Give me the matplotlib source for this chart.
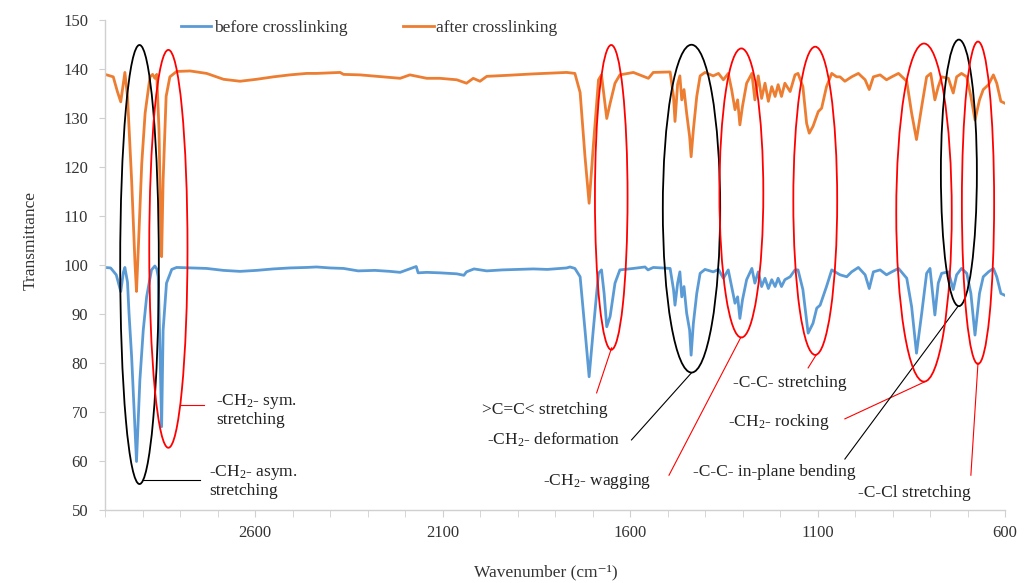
import matplotlib
matplotlib.use("Agg")
import matplotlib.pyplot as plt
from matplotlib.patches import Ellipse
import numpy as np

plt.rcParams['font.family'] = ['Liberation Serif', 'DejaVu Serif']
plt.rcParams['mathtext.fontset'] = 'custom'
plt.rcParams['mathtext.rm'] = 'Liberation Serif'
plt.rcParams['mathtext.it'] = 'Liberation Serif:italic'

# spectra (wavenumber [cm-1], transmittance)
wn_before = [3000, 2985, 2970, 2958, 2951, 2947, 2940, 2936, 2929, 2922, 2916, 2907, 2898, 2889, 2876, 2867, 2862, 2858,
			2853, 2849, 2845, 2836, 2822, 2809, 2773, 2729, 2684, 2640, 2596, 2551, 2507, 2462, 2436, 2400, 2364, 2325,
			2280, 2240, 2213, 2170, 2165, 2142, 2107, 2062, 2043, 2036, 2016, 1982, 1940, 1900, 1858, 1820, 1769, 1760,
			1747, 1733, 1720, 1709, 1698, 1684, 1676, 1669, 1662, 1653, 1640, 1627, 1591, 1560, 1552, 1538, 1493, 1484,
			1480, 1473, 1467, 1462, 1456, 1449, 1441, 1437, 1431, 1422, 1413, 1400, 1378, 1364, 1351, 1338, 1329, 1320,
			1313, 1307, 1300, 1289, 1275, 1267, 1258, 1249, 1240, 1231, 1222, 1213, 1205, 1196, 1187, 1173, 1160, 1152,
			1139, 1125, 1112, 1102, 1093, 1076, 1062, 1040, 1022, 1009, 991, 973, 962, 951, 933, 916, 902, 884, 862, 849,
			836, 822, 809, 800, 787, 778, 769, 751, 738, 729, 716, 702, 691, 680, 668, 658, 644, 631, 622, 611, 600]
t_before = [99.5, 99.4, 98.0, 94.6, 98.5, 99.5, 96.5, 90.2, 81.3, 69.7, 59.9, 76.5, 86.7, 93.5, 99.0, 99.8, 99.2, 97.6,
			81.3, 67.0, 86.7, 96.3, 99.1, 99.5, 99.4, 99.3, 98.9, 98.7, 98.9, 99.2, 99.4, 99.5, 99.6, 99.4, 99.3, 98.8,
			98.9, 98.7, 98.5, 99.7, 98.4, 98.5, 98.4, 98.2, 97.9, 98.6, 99.2, 98.8, 99.0, 99.1, 99.2, 99.1, 99.4, 99.6,
			99.3, 97.6, 86.7, 77.2, 86.7, 98.3, 99.0, 94.2, 87.4, 89.5, 96.3, 99.0, 99.3, 99.6, 99.0, 99.5, 99.3, 95.0,
			91.8, 96.3, 98.6, 93.5, 95.6, 90.2, 86.7, 81.6, 88.1, 94.2, 98.3, 99.1, 98.6, 99.1, 97.3, 99.0, 95.6, 92.2,
			93.5, 89.1, 92.9, 97.0, 99.3, 96.3, 98.6, 95.6, 97.3, 95.2, 97.0, 95.6, 97.3, 95.6, 97.0, 97.6, 99.0, 99.0,
			95.0, 86.1, 88.1, 91.2, 91.8, 95.6, 99.0, 98.0, 97.6, 98.6, 99.5, 98.0, 95.2, 98.6, 99.0, 98.0, 98.6, 99.3, 97.3, 91.5,
			82.0, 90.2, 98.3, 99.3, 89.8, 96.3, 98.3, 98.6, 95.0, 98.0, 99.3, 98.3, 94.2, 85.7, 94.2, 97.6, 98.6, 99.3, 97.6, 94.2, 93.8]

wn_after = [3000, 2978, 2967, 2958, 2951, 2947, 2940, 2929, 2920, 2916, 2911, 2902, 2893, 2880, 2873, 2867, 2862, 2856,
			2852, 2849, 2845, 2837, 2827, 2809, 2773, 2729, 2684, 2640, 2596, 2551, 2507, 2462, 2436, 2373, 2364, 2320,
			2258, 2213, 2187, 2142, 2107, 2062, 2036, 2018, 2000, 1982, 1929, 1858, 1769, 1747, 1733, 1720, 1709, 1698,
			1684, 1676, 1669, 1662, 1653, 1640, 1627, 1591, 1551, 1538, 1493, 1484, 1480, 1473, 1467, 1462, 1456, 1449,
			1441, 1437, 1431, 1422, 1413, 1400, 1378, 1364, 1351, 1338, 1329, 1320, 1313, 1307, 1300, 1289, 1275, 1267,
			1258, 1249, 1240, 1231, 1222, 1213, 1205, 1196, 1187, 1173, 1160, 1152, 1139, 1129, 1122, 1112, 1098, 1089,
			1076, 1062, 1049, 1040, 1027, 1009, 991, 973, 962, 951, 933, 916, 902, 884, 862, 849, 836, 822, 809, 798, 787,
			778, 769, 751, 738, 729, 716, 702, 691, 680, 668, 658, 644, 631, 622, 611, 600]
t_after = [138.9, 138.4, 135.4, 133.3, 137.1, 139.3, 134.4, 117.3, 100.3, 94.6, 103.7, 120.7, 131.0, 138.4, 138.9, 138.1,
			138.9, 127.6, 110.5, 101.7, 117.3, 134.4, 138.4, 139.5, 139.6, 139.1, 137.9, 137.5, 137.9, 138.4, 138.8, 139.1,
			139.1, 139.3, 138.9, 138.8, 138.4, 138.1, 138.8, 138.1, 138.1, 137.8, 137.1, 138.1, 137.5, 138.5, 138.7, 139.0,
			139.3, 139.1, 135.2, 122.1, 112.6, 124.1, 137.8, 138.8, 134.4, 129.9, 133.0, 137.1, 138.8, 139.3, 138.1, 139.3,
			139.4, 134.4, 129.3, 136.9, 138.6, 133.7, 135.8, 131.0, 126.2, 122.1, 127.6, 134.4, 138.6, 139.3, 138.6, 139.1,
			137.8, 139.1, 135.8, 131.7, 133.7, 128.6, 132.4, 137.1, 139.1, 133.7, 138.6, 134.0, 137.1, 133.4, 136.4, 134.4,
			136.8, 134.4, 137.1, 135.4, 138.8, 139.1, 136.4, 128.9, 126.9, 128.3, 131.3, 132.0, 136.4, 139.1, 138.4, 138.4,
			137.5, 138.4, 139.1, 137.8, 135.8, 138.4, 138.8, 137.8, 138.4, 139.1, 137.5, 131.0, 125.6, 132.4, 138.4, 139.1,
			133.7, 136.4, 138.4, 138.1, 135.1, 138.4, 139.1, 138.4, 134.4, 129.6, 133.7, 135.8, 136.8, 138.8, 137.1, 133.4, 133.0]

# marked bands: centre wn, centre T, width, height, colour
ell_wn = [2908, 2831, 1650, 1436, 1303, 1106, 816, 723, 672]
ell_t = [100.1, 103.3, 113.8, 111.5, 114.7, 113.1, 110.7, 118.8, 112.7]
ell_w = [103, 102, 87, 153, 117, 117, 148, 96, 86]
ell_h = [89.6, 81.2, 62.2, 66.9, 59.0, 62.9, 69.0, 54.4, 65.8]
ell_col = ["black", "red", "red", "black", "red", "red", "red", "black", "red"]

# labels with leader lines (line start -> line end, text anchor)
lab_txt = ["-CH$_2$- sym.\nstretching", "-CH$_2$- asym.\nstretching", ">C=C< stretching", "-CH$_2$- deformation",
			"-CH$_2$- wagging", "-C-C- stretching", "-CH$_2$- rocking", "-C-C- in-plane bending", "-C-Cl stretching"]
lab_wn = [2704, 2723, 1995, 1981, 1832, 1326, 1339, 1433, 992]
lab_t = [70.4, 55.9, 70.4, 64.3, 55.8, 75.9, 68.0, 57.8, 53.5]
line_wn0 = [2800, 2899, 1649, 1436, 1304, 1104, 813, 725, 672]
line_t0 = [71.4, 56.1, 83.1, 78.0, 85.3, 81.6, 76.2, 91.6, 80.0]
line_wn1 = [2736, 2747, 1689, 1596, 1496, 1125, 1027, 1027, 691]
line_t1 = [71.4, 56.1, 73.9, 64.3, 57.1, 79.0, 68.6, 60.4, 57.1]
line_col = ["red", "black", "red", "black", "red", "red", "red", "black", "red"]

fig = plt.figure(figsize=(10.25, 5.83), dpi=100)
ax = fig.add_axes([105/1025, 73/583, 900/1025, 490/583])

ax.plot(wn_before, t_before, color="#5B9BD5", lw=2.0, label="before crosslinking")
ax.plot(wn_after, t_after, color="#ED7D31", lw=2.0, label="after crosslinking")

for i in range(len(ell_wn)):
	ax.add_patch(Ellipse((ell_wn[i], ell_t[i]), ell_w[i], ell_h[i], fill=False, edgecolor=ell_col[i], lw=1.3, zorder=5))

for i in range(len(lab_txt)):
	ax.plot([line_wn0[i], line_wn1[i]], [line_t0[i], line_t1[i]], color=line_col[i], lw=0.8, clip_on=False)
	ax.text(lab_wn[i], lab_t[i], lab_txt[i], ha="left", va="center", fontsize=12.5, linespacing=1.05,
			color="#222222", clip_on=False)

ax.set_xlim(3000, 600)
ax.set_ylim(50, 150)
ax.set_xticks(np.arange(600, 3001, 500))
ax.set_xticks(np.arange(600, 3001, 100), minor=True)
ax.set_yticks(np.arange(50, 151, 10))

for s in ["top", "right"]:
	ax.spines[s].set_visible(False)
for s in ["left", "bottom"]:
	ax.spines[s].set_color("#D0D0D0")
	ax.spines[s].set_linewidth(1.0)

ax.tick_params(axis="x", which="both", length=5, color="#D0D0D0", labelsize=12, pad=6, direction="out",
				labelcolor="#333333")
ax.tick_params(axis="y", length=4, color="#D0D0D0", labelsize=12, pad=8, labelcolor="#333333")

ax.set_xlabel("Wavenumber (cm\u207b\u00b9)", fontsize=12.5, color="#333333")
ax.xaxis.set_label_coords(0.49, -0.11)
ax.set_ylabel("Transmittance", fontsize=12.5, color="#333333")
ax.yaxis.set_label_coords(-0.074, 0.55)

fig.legend(loc="center left", bbox_to_anchor=(181/1025, 1 - 28/583), ncol=2, frameon=False, fontsize=12.5,
			handlelength=1.75, handletextpad=0.15, columnspacing=3.2, borderpad=0, borderaxespad=0,
			labelcolor="#333333")

plt.savefig("out.png", dpi=100)
